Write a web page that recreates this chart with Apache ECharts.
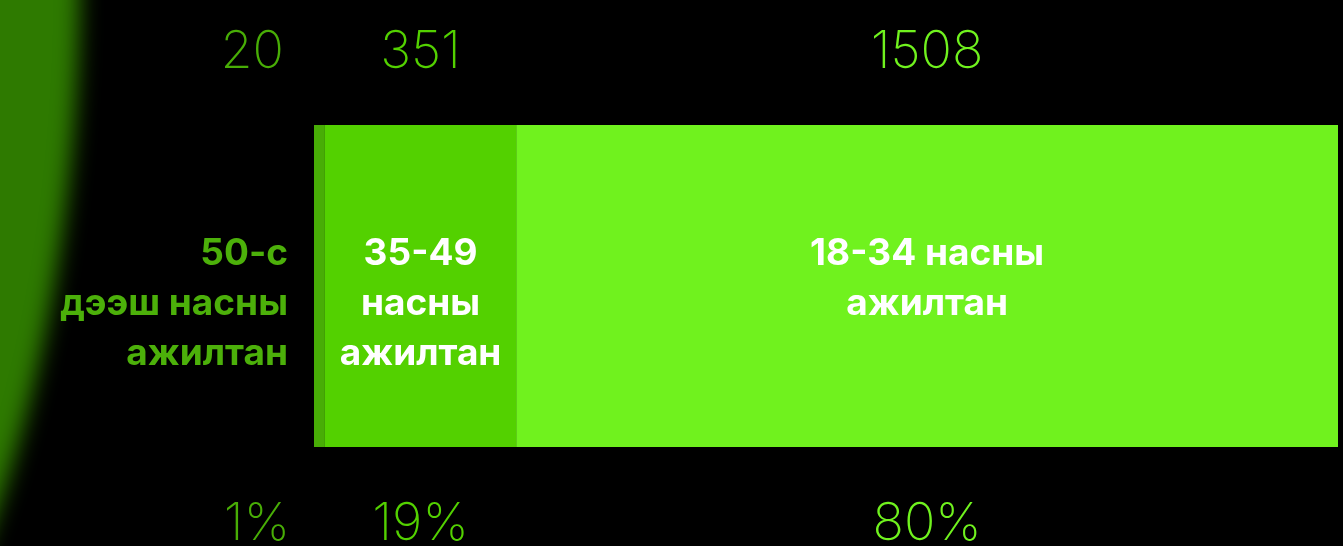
<!DOCTYPE html>
<html>
<head>
<meta charset="utf-8">
<style>
html,body{margin:0;padding:0;background:#000;}
#chart{width:1343px;height:546px;}
</style>
<script src="https://cdn.jsdelivr.net/npm/echarts@6/dist/echarts.min.js"></script>
</head>
<body>
<div id="chart"></div>
<script>
// ---- data ----
const categories = ['50-с\nдээш насны\nажилтан', '35-49\nнасны\nажилтан', '18-34 насны\nажилтан'];
const values = [20, 351, 1508];
const percentLabels = ['1%', '19%', '80%'];
const colors = ['#48ad06', '#53d100', '#70f21e'];
const labelColors = ['#4cb00a', '#ffffff', '#ffffff'];

const chart = echarts.init(document.getElementById('chart'), null, {renderer: 'canvas'});

const thinFont = {fontFamily: 'Inter', fontWeight: 250, fontSize: 52};
const boldFont = {fontFamily: 'Inter', fontWeight: 700, fontSize: 37, lineHeight: 50};

const series = [];
values.forEach((v, i) => {
  const first = i === 0;
  // visible segment
  series.push({
    type: 'bar', stack: 'main', name: categories[i], barWidth: '100%', barGap: '-100%',
    data: [v], itemStyle: {color: colors[i]}, silent: true,
    label: Object.assign({
      show: true, formatter: categories[i], color: labelColors[i],
      position: first ? [-26, 104] : ['50%', 104],
      align: first ? 'right' : 'center', verticalAlign: 'top'
    }, boldFont)
  });
  // count above
  series.push({
    type: 'bar', stack: 'count', barWidth: '100%', barGap: '-100%',
    data: [v], itemStyle: {color: 'rgba(0,0,0,0)'}, silent: true, z: 5,
    label: Object.assign({
      show: true, formatter: String(v), color: colors[i],
      position: first ? [-30, -73] : ['50%', -73],
      align: first ? 'right' : 'center', verticalAlign: 'middle'
    }, thinFont)
  });
  // percent below
  series.push({
    type: 'bar', stack: 'pct', barWidth: '100%', barGap: '-100%',
    data: [v], itemStyle: {color: 'rgba(0,0,0,0)'}, silent: true, z: 5,
    label: Object.assign({
      show: true, formatter: percentLabels[i], color: colors[i],
      position: first ? [-24, 399] : ['50%', 399],
      align: first ? 'right' : 'center', verticalAlign: 'middle'
    }, thinFont)
  });
});

const total = values.reduce((a, b) => a + b, 0);

chart.setOption({
  backgroundColor: '#000',
  animation: false,
  graphic: [{
    type: 'ellipse', silent: true, z: -10,
    shape: {cx: -2395, cy: -20, rx: 475, ry: 940},
    style: {fill: '#2d7800', shadowBlur: 22, shadowColor: '#2e7a00', shadowOffsetX: 2000}
  }],
  grid: {left: 314, right: 5, top: 125, bottom: 99},
  xAxis: {type: 'value', min: 0, max: total, show: false},
  yAxis: {type: 'category', data: [''], show: false},
  series: series
});
</script>
</body>
</html>
